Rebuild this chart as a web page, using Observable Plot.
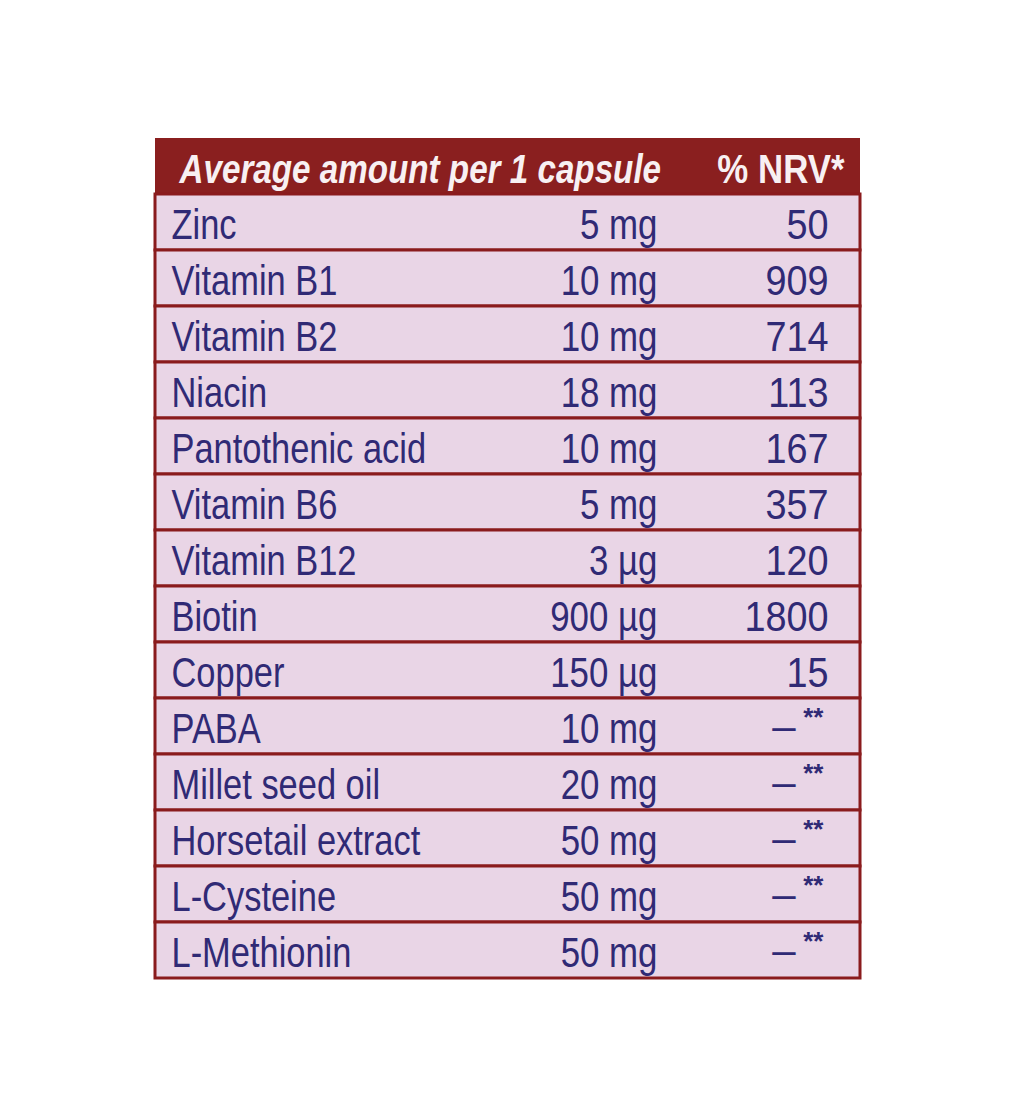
<!DOCTYPE html>
<html>
<head>
<meta charset="utf-8">
<script src="https://cdn.jsdelivr.net/npm/d3@7"></script>
<script src="https://cdn.jsdelivr.net/npm/@observablehq/plot@0.6"></script>
<style>
  html, body { margin: 0; padding: 0; background: #ffffff; }
  #chart svg { display: block; }
</style>
</head>
<body>
<div id="chart"></div>
<script>
// ---- data ----
const headerLabel = "Average amount per 1 capsule";
const headerNRV = "% NRV*";
const nutrients = ["Zinc", "Vitamin B1", "Vitamin B2", "Niacin", "Pantothenic acid", "Vitamin B6",
  "Vitamin B12", "Biotin", "Copper", "PABA", "Millet seed oil", "Horsetail extract", "L-Cysteine", "L-Methionin"];
const amounts = ["5 mg", "10 mg", "10 mg", "18 mg", "10 mg", "5 mg", "3 µg", "900 µg", "150 µg",
  "10 mg", "20 mg", "50 mg", "50 mg", "50 mg"];
const nrv = ["50", "909", "714", "113", "167", "357", "120", "1800", "15", null, null, null, null, null];

// ---- table built from arrays ----
const rows = nutrients.map((name, i) => ({name, amount: amounts[i], nrv: nrv[i]}));
const yDomain = ["__header", ...nutrients];
const tableW = 705; // table width in x units
const col = {name: 16, amount: 502, nrv: 673, headerL: 24, headerR: 689};

const textColor = "#302a75";
const lineColor = "#8a1b1d";
const rowFill = "#e9d5e6";
const headFill = "#8a1f1f";
const bodyFont = "'Liberation Sans', Arial, sans-serif";

const plot = Plot.plot({
  width: 1014,
  height: 1118,
  margin: 0,
  style: {background: "#ffffff", fontFamily: bodyFont},
  x: {domain: [0, tableW], range: [155, 860], axis: null},
  y: {type: "band", domain: yDomain, range: [135, 981], padding: 0, axis: null},
  marks: [
    // header band
    Plot.barX([{k: "__header"}], {y: "k", x1: 0, x2: tableW, fill: headFill, inset: 0}),
    // row backgrounds
    Plot.barX(rows, {y: "name", x1: 0, x2: tableW, fill: rowFill, stroke: lineColor, strokeWidth: 3, inset: 0}),
    // header text
    Plot.text([{k: "__header", t: headerLabel}], {
      y: "k", x: col.headerL, text: "t", textAnchor: "start", fill: "#f8f0f2", className: "hdrL",
      fontSize: 41, fontWeight: "bold", fontStyle: "italic", dy: 3
    }),
    Plot.text([{k: "__header", t: headerNRV}], {
      y: "k", x: col.headerR, text: "t", textAnchor: "end", fill: "#f8f0f2", className: "hdrR",
      fontSize: 41, fontWeight: "bold", dy: 3
    }),
    // nutrient names
    Plot.text(rows, {y: "name", x: col.name, text: "name", textAnchor: "start", fill: textColor, fontSize: 42, dy: 3, className: "names"}),
    // amounts
    Plot.text(rows, {y: "name", x: col.amount, text: "amount", textAnchor: "end", fill: textColor, fontSize: 42, dy: 3, className: "amts"}),
    // NRV values
    Plot.text(rows.filter(d => d.nrv != null), {y: "name", x: col.nrv, text: "nrv", textAnchor: "end", fill: textColor, fontSize: 42, dy: 3, className: "nrvs"}),
    // missing NRV: dash + superscript **
    Plot.text(rows.filter(d => d.nrv == null), {y: "name", x: col.nrv, text: () => "–", textAnchor: "end", dx: -33, fill: textColor, fontSize: 42, dy: 0}),
    Plot.text(rows.filter(d => d.nrv == null), {y: "name", x: col.nrv, text: () => "**", textAnchor: "end", dx: -5, fill: textColor, fontSize: 26, fontWeight: "bold", dy: -9, style: {letterSpacing: "2px"}})
  ]
});
document.getElementById("chart").appendChild(plot);

// condense glyphs horizontally (about each text's anchor) to mimic the narrow typeface
function condense(selector, factor) {
  plot.querySelectorAll(selector + " text").forEach(t => {
    const ax = +(t.getAttribute("x") || 0);
    const old = t.getAttribute("transform") || "";
    t.setAttribute("transform", `${old} translate(${ax},0) scale(${factor},1) translate(${-ax},0)`.trim());
  });
}
condense("g.hdrL", 0.81);
condense("g.hdrR", 0.85);
condense("g.names", 0.82);
condense("g.amts", 0.83);
condense("g.nrvs", 0.9);
</script>
</body>
</html>
